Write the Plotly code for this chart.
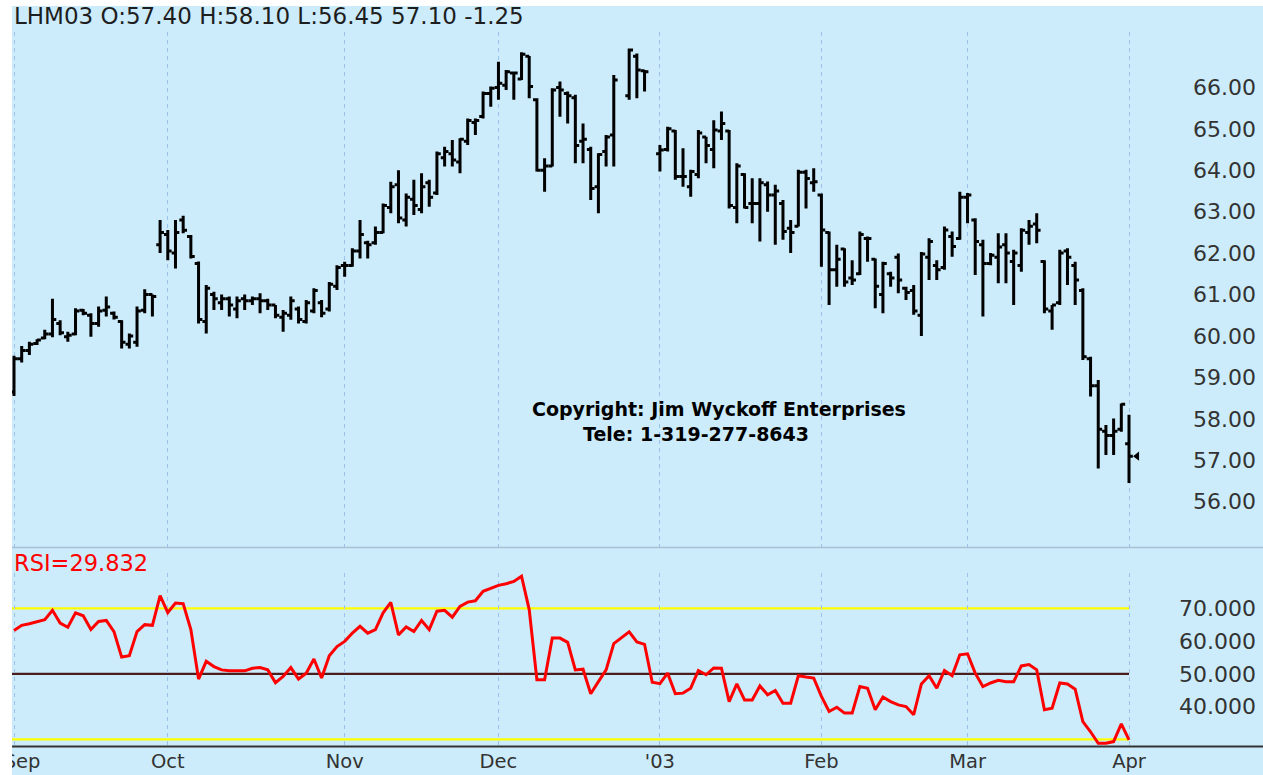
import pandas as pd
import plotly.graph_objects as go

# ---------------- data ----------------
SYMBOL = "LHM03"
START, END = "2002-09-03", "2003-04-01"
HOLIDAYS = ["2002-11-28", "2002-12-25", "2003-01-01", "2003-01-20", "2003-02-17"]
MONTH_NAMES = {9: "Sep", 10: "Oct", 11: "Nov", 12: "Dec", 1: "'03", 2: "Feb", 3: "Mar", 4: "Apr"}

N = None  # session without a printed bar
OPEN = [
    58.65, 59.45, 59.65, 59.82, 59.95, 60.05, 60.30, 59.98, 60.05, 60.62,
    60.50, 60.30, 60.62, 60.55, 60.35, 59.80, 59.85, 60.62, 61.00, 62.20,
    62.45, 62.00, 62.80, 62.40, 61.75, 60.35, 61.00, 60.80, 60.90, 60.65,
    60.90, 60.85, 60.90, 60.85, 60.75, 60.45, 60.50, 60.65, 60.35, 60.60,
    60.80, 60.65, 61.20,
    61.70, 61.70, 62.05, 62.25, 62.25, 62.50, 63.10, 63.65, 62.80, 63.30,
    63.05, 63.70, 63.45, 64.30, 64.40, 64.20, 64.70, 65.15, 65.30, 65.85,
    66.00, 66.05, 66.35, 66.20, 66.75, 65.70, 64.00, 64.10, 66.00, 65.85,
    65.75, 64.70, 64.50, 63.60, 64.45, 64.85, N, 65.80, 66.75, 66.40, N,
    64.40, 64.50, 64.95, 63.85, 63.60, 63.90, 64.80, 64.50, 64.95, 64.95,
    63.10, 63.90, 63.20, 63.20, 63.65, 63.40, 63.20, 62.60, 62.65, 63.95, 63.70,
    63.40, 62.50, 61.60, 62.10, 61.40, 61.50, 62.35, 61.85, 61.00, 61.50,
    61.90, 61.15, 61.10, 60.50, 61.90, 61.70, 61.65, 62.40, 62.35,
    63.35, 62.80, 62.20, 61.75, 61.90, 62.20, 61.80, 61.70, 62.50, 62.70,
    61.80, 60.60, 60.80, 62.05, 61.70, 61.10, 59.45, 58.80, 57.70, 57.60, 57.75,
    57.40,
]
HIGH = [
    59.52, 59.76, 59.86, 59.92, 60.15, 60.90, 60.38, 60.10, 60.67, 60.65,
    60.55, 60.71, 60.95, 60.59, 60.38, 60.06, 60.71, 61.13, 61.00, 62.80,
    62.56, 62.80, 62.90, 62.44, 61.80, 61.23, 61.07, 61.00, 60.95, 60.95,
    61.00, 60.95, 61.03, 60.90, 60.75, 60.63, 60.95, 60.71, 60.87, 61.15,
    60.87, 61.30, 61.71,
    61.79, 62.12, 62.80, 62.30, 62.64, 63.20, 63.72, 64.00, 63.44, 63.77,
    63.93, 63.77, 64.45, 64.57, 64.73, 64.77, 65.25, 65.25, 65.90, 66.02,
    66.62, 66.42, 66.38, 66.85, 66.76, 65.74, 64.29, 65.98, 66.14, 65.90,
    65.82, 65.13, 64.57, 64.41, 64.85, 66.30, N, 66.94, 66.82, 66.42, N,
    64.61, 65.05, 64.97, 64.53, 64.01, 64.97, 64.81, 65.21, 65.42, 64.97,
    64.17, 63.93, 63.81, 63.81, 63.73, 63.65, 63.28, 62.80, 64.01, 64.01, 64.05,
    63.44, 62.52, 62.20, 62.12, 61.83, 62.52, 62.40, 61.87, 61.79, 61.55,
    61.99, 61.19, 61.23, 62.03, 62.36, 61.83, 62.64, 62.52, 63.48,
    63.45, 62.84, 62.32, 62.00, 62.48, 62.48, 62.08, 62.60, 62.80, 62.96,
    61.83, 60.75, 62.08, 62.12, 61.79, 61.15, 59.50, 58.94, 57.85, 58.01, 58.37,
    58.10,
]
LOW = [
    58.55, 59.36, 59.54, 59.78, 59.92, 59.97, 60.02, 59.86, 60.02, 60.50,
    59.98, 60.22, 60.47, 60.40, 59.70, 59.70, 59.74, 60.55, 60.47, 62.00,
    61.83, 61.63, 62.48, 61.87, 60.30, 60.06, 60.63, 60.63, 60.47, 60.43,
    60.63, 60.75, 60.55, 60.63, 60.43, 60.10, 60.39, 60.30, 60.30, 60.55,
    60.45, 60.59, 61.11,
    61.43, 61.67, 61.87, 61.87, 62.20, 62.48, 62.96, 62.72, 62.64, 62.92,
    62.96, 63.12, 63.40, 64.09, 64.09, 63.93, 64.61, 64.85, 65.25, 65.53,
    65.70, 65.94, 65.70, 66.18, 65.74, 63.97, 63.48, 64.09, 65.29, 65.13,
    64.17, 64.17, 63.28, 62.96, 64.09, 64.09, N, 65.70, 65.74, 65.90, N,
    63.97, 64.45, 63.77, 63.60, 63.36, 63.81, 64.17, 64.05, 64.73, 63.08,
    62.72, 63.08, 62.72, 62.28, 63.00, 62.20, 62.32, 62.00, 62.64, 63.08, 63.48,
    61.67, 60.75, 61.19, 61.19, 61.23, 61.47, 61.79, 60.67, 60.55, 61.19,
    61.03, 60.87, 60.51, 60.00, 61.35, 61.35, 61.60, 61.91, 62.32,
    62.72, 61.47, 60.47, 61.71, 61.27, 61.27, 60.75, 61.55, 62.20, 62.24,
    60.55, 60.15, 60.75, 61.23, 60.75, 59.42, 58.54, 56.80, 57.13, 57.13, 57.69,
    56.45,
]
CLOSE = [
    59.45, 59.65, 59.80, 59.90, 60.05, 60.40, 60.08, 60.02, 60.60, 60.55,
    60.30, 60.60, 60.70, 60.45, 59.85, 60.00, 60.60, 61.00, 60.95, 62.50,
    62.05, 62.50, 62.55, 61.92, 60.40, 61.15, 60.90, 60.90, 60.75, 60.85,
    60.85, 60.90, 60.85, 60.75, 60.50, 60.55, 60.85, 60.40, 60.80, 61.10,
    60.55, 61.25, 61.65,
    61.70, 62.05, 62.45, 62.20, 62.50, 63.15, 63.60, 62.85, 63.35, 63.15,
    63.60, 63.35, 64.40, 64.45, 64.25, 64.75, 65.20, 65.20, 65.85, 65.98,
    66.10, 66.38, 66.35, 66.80, 66.02, 64.00, 64.10, 65.94, 65.94, 65.80,
    64.60, 64.75, 63.56, 64.38, 64.80, 66.18, N, 66.90, 66.42, 66.38, N,
    64.49, 65.00, 63.85, 63.85, 63.97, 64.90, 64.60, 64.97, 65.13, 63.15,
    64.10, 63.10, 63.20, 63.70, 63.40, 63.50, 62.52, 62.50, 63.95, 63.80, 63.72,
    62.56, 61.60, 61.85, 61.30, 61.35, 62.45, 62.35, 61.20, 61.75, 61.40,
    61.35, 61.05, 60.60, 61.98, 62.28, 61.60, 62.56, 62.16, 63.35,
    63.40, 62.28, 61.75, 61.95, 62.15, 62.00, 62.00, 62.55, 62.65, 62.55,
    60.65, 60.75, 62.00, 61.90, 61.35, 59.50, 58.80, 57.75, 57.60, 57.70, 58.35,
    57.10,
]
RSI = [
    63.2, 64.8, 65.3, 65.8, 66.5, 69.4, 65.5, 64.2, 68.6, 67.7,
    63.5, 66.0, 66.3, 62.9, 55.1, 55.5, 62.9, 65.0, 64.8, 73.9,
    68.7, 71.6, 71.4, 63.5, 48.4, 53.8, 52.2, 51.2, 50.9, 50.9,
    50.9, 51.7, 51.9, 51.2, 47.3, 49.2, 51.9, 48.4, 50.2, 54.5,
    48.7, 55.5, 58.3,
    59.9, 62.4, 64.5, 62.4, 63.5, 68.6, 71.8, 61.9, 64.3, 62.9,
    66.3, 63.5, 69.1, 69.4, 67.3, 70.6, 71.9, 72.3, 75.2, 76.2,
    77.0, 77.5, 78.2, 79.8, 69.6, 48.2, 48.2, 60.9, 60.9, 59.6,
    51.2, 51.4, 43.9, 47.6, 51.2, 59.2, 61.0, 62.8, 59.7, 59.0, 47.4,
    47.0, 50.2, 43.9, 44.1, 45.6, 51.0, 49.7, 51.8, 51.7, 41.5,
    46.9, 42.0, 42.0, 46.3, 43.6, 44.9, 41.0, 41.0, 49.4, 49.0, 48.7,
    43.1, 38.5, 39.8, 38.0, 38.0, 46.1, 45.6, 39.0, 42.9, 41.5,
    40.5, 40.0, 37.5, 46.9, 49.4, 45.6, 51.0, 49.4, 55.8,
    56.1, 50.2, 46.1, 47.2, 48.0, 47.6, 47.6, 52.4, 52.8, 51.2,
    39.0, 39.5, 47.2, 46.9, 45.3, 35.4, 32.3, 28.8, 28.8, 29.3, 34.7,
    29.832,
]
PRICE_TICKS = [56, 57, 58, 59, 60, 61, 62, 63, 64, 65, 66]
RSI_TICKS = [40, 50, 60, 70]
RSI_LEVELS = [70, 50, 30]

# ---------------- derived ----------------
dates = [d for d in pd.bdate_range(START, END) if d.strftime("%Y-%m-%d") not in HOLIDAYS]
idx = list(range(len(dates)))
bars = [i for i in idx if OPEN[i] is not None]
month_pos, month_txt = [], []
for i, d in enumerate(dates):
    if i == 0 or d.month != dates[i - 1].month:
        month_pos.append(i)
        month_txt.append(MONTH_NAMES[d.month])

# ---------------- geometry (pixels) ----------------
W, H = 1263, 775
PL, PR, PT, PB = 12, 1260, 32, 747


def fx(px):
    return (px - PL) / (PR - PL)


def fy(py):
    return (PB - py) / (PB - PT)


BAR_PX = (1129 - 14) / 145.0
X0 = -(14 - 12) / BAR_PX
X1 = X0 + (1178 - 12) / BAR_PX
XDOM = [0, fx(1178)]

BG = "#CCECFB"
FONT = "DejaVu Sans"
GRID = "#9DC2EE"
MONTH_FONT = dict(family=FONT, size=19.5, color="#333333")

fig = go.Figure()
fig.add_trace(go.Ohlc(
    x=bars,
    open=[OPEN[i] for i in bars], high=[HIGH[i] for i in bars],
    low=[LOW[i] for i in bars], close=[CLOSE[i] for i in bars],
    increasing=dict(line=dict(color="black", width=3)),
    decreasing=dict(line=dict(color="black", width=3)),
    tickwidth=0.5, xaxis="x", yaxis="y", hoverinfo="skip", showlegend=False,
))
# last price marker
fig.add_trace(go.Scatter(
    x=[idx[-1] + 1.05], y=[CLOSE[-1]], mode="markers",
    marker=dict(symbol="triangle-left", size=8, color="black"),
    xaxis="x", yaxis="y", hoverinfo="skip", showlegend=False,
))
fig.add_trace(go.Scatter(
    x=idx, y=RSI, mode="lines", line=dict(color="#FF0000", width=3),
    xaxis="x2", yaxis="y2", hoverinfo="skip", showlegend=False,
))
# same RSI series attached (invisibly) to the label-only axis x3 so that axis is drawn
fig.add_trace(go.Scatter(
    x=idx, y=RSI, mode="lines", line=dict(width=0), opacity=0,
    xaxis="x3", yaxis="y2", hoverinfo="skip", showlegend=False,
))

shapes = []
for lv in RSI_LEVELS:
    shapes.append(dict(type="line", xref="x2", yref="y2", x0=X0, x1=idx[-1], y0=lv, y1=lv,
                       line=dict(color="#FFFF00" if lv != 50 else "#4A1E1E", width=2.2),
                       layer="below"))
# pane separator and bottom border
shapes.append(dict(type="line", xref="paper", yref="paper", x0=fx(12), x1=fx(W),
                   y0=fy(547.5), y1=fy(547.5), line=dict(color="#A6BFD3", width=1.5)))
shapes.append(dict(type="line", xref="paper", yref="paper", x0=fx(12), x1=fx(W),
                   y0=fy(746.5), y1=fy(746.5), line=dict(color="#333333", width=2)))
# white canvas border (left and top), kept inside the figure
shapes.append(dict(type="rect", xref="paper", yref="paper", x0=fx(0), x1=fx(12),
                   y0=fy(H), y1=fy(0), fillcolor="white", line=dict(width=0), layer="above"))
shapes.append(dict(type="rect", xref="paper", yref="paper", x0=fx(0), x1=fx(W),
                   y0=fy(6), y1=fy(0), fillcolor="white", line=dict(width=0), layer="above"))

prev_close = CLOSE[-2]
title = (f"{SYMBOL} O:{OPEN[-1]:.2f} H:{HIGH[-1]:.2f} L:{LOW[-1]:.2f} "
         f"{CLOSE[-1]:.2f} {CLOSE[-1] - prev_close:+.2f}")

annotations = [
    dict(text=title, xref="paper", yref="paper", x=fx(12), y=fy(16), xanchor="left",
         yanchor="middle", showarrow=False, font=dict(family=FONT, size=23, color="#1E1E1E")),
    dict(text=f"RSI={RSI[-1]:.3f}", xref="paper", yref="paper", x=fx(12), y=fy(563),
         xanchor="left", yanchor="middle", showarrow=False,
         font=dict(family=FONT, size=22.5, color="#FF0000")),
    dict(text="<b>Copyright: Jim Wyckoff Enterprises</b>", xref="paper", yref="paper",
         x=fx(719), y=fy(409), xanchor="center", yanchor="middle", showarrow=False,
         font=dict(family=FONT, size=19, color="black")),
    dict(text="<b>Tele: 1-319-277-8643</b>", xref="paper", yref="paper",
         x=fx(696), y=fy(434), xanchor="center", yanchor="middle", showarrow=False,
         font=dict(family=FONT, size=19, color="black")),
]

common_x = dict(domain=XDOM, range=[X0, X1], zeroline=False, showline=False, ticks="",
                fixedrange=True)
grid_x = dict(tickvals=month_pos, showgrid=True, gridcolor=GRID, gridwidth=1.3,
              griddash="4px,4px")

# first month label sits on the canvas edge (partly hidden, as in the original)
main_txt = [""] + month_txt[1:]

fig.update_layout(
    width=W, height=H,
    margin=dict(l=PL, r=W - PR, t=PT, b=H - PB, pad=0),
    paper_bgcolor=BG, plot_bgcolor=BG,
    showlegend=False,
    xaxis=dict(**common_x, **grid_x, anchor="y", showticklabels=False,
               rangeslider=dict(visible=False)),
    yaxis=dict(domain=[fy(547), 1], range=[66 - (547 - 87.4) / 41.43, 66 + (87.4 - 32) / 41.43],
               anchor="free", position=fx(1256), side="left", tickvals=PRICE_TICKS,
               tickformat=".2f", showgrid=False, zeroline=False, ticks="", showline=False,
               tickfont=dict(family=FONT, size=22, color="#333333")),
    xaxis2=dict(**common_x, **grid_x, anchor="y2", ticktext=main_txt, showticklabels=True,
                ticklabelstandoff=0, tickfont=MONTH_FONT),
    xaxis3=dict(**common_x, overlaying="x2", anchor="y2", side="bottom",
                tickvals=month_pos[:1], ticktext=month_txt[:1], showgrid=False,
                showticklabels=True, ticklabeloverflow="allow", ticklabelshift=8,
                ticklabelstandoff=0, tickfont=MONTH_FONT),
    yaxis2=dict(domain=[0, fy(573)], range=[50 - (747 - 673.8) / 3.275, 50 + (673.8 - 573) / 3.275],
                anchor="free", position=fx(1256), side="left", tickvals=RSI_TICKS,
                tickformat=".3f", showgrid=False, zeroline=False, ticks="", showline=False,
                tickfont=dict(family=FONT, size=22, color="#333333")),
    shapes=shapes,
    annotations=annotations,
)

fig.write_html(
    "out.html",
    config={"displayModeBar": False},
    post_script=(
        "document.documentElement.style.margin='0';document.body.style.margin='0';"
        "document.documentElement.style.overflow='hidden';document.body.style.overflow='hidden';"
    ),
)
